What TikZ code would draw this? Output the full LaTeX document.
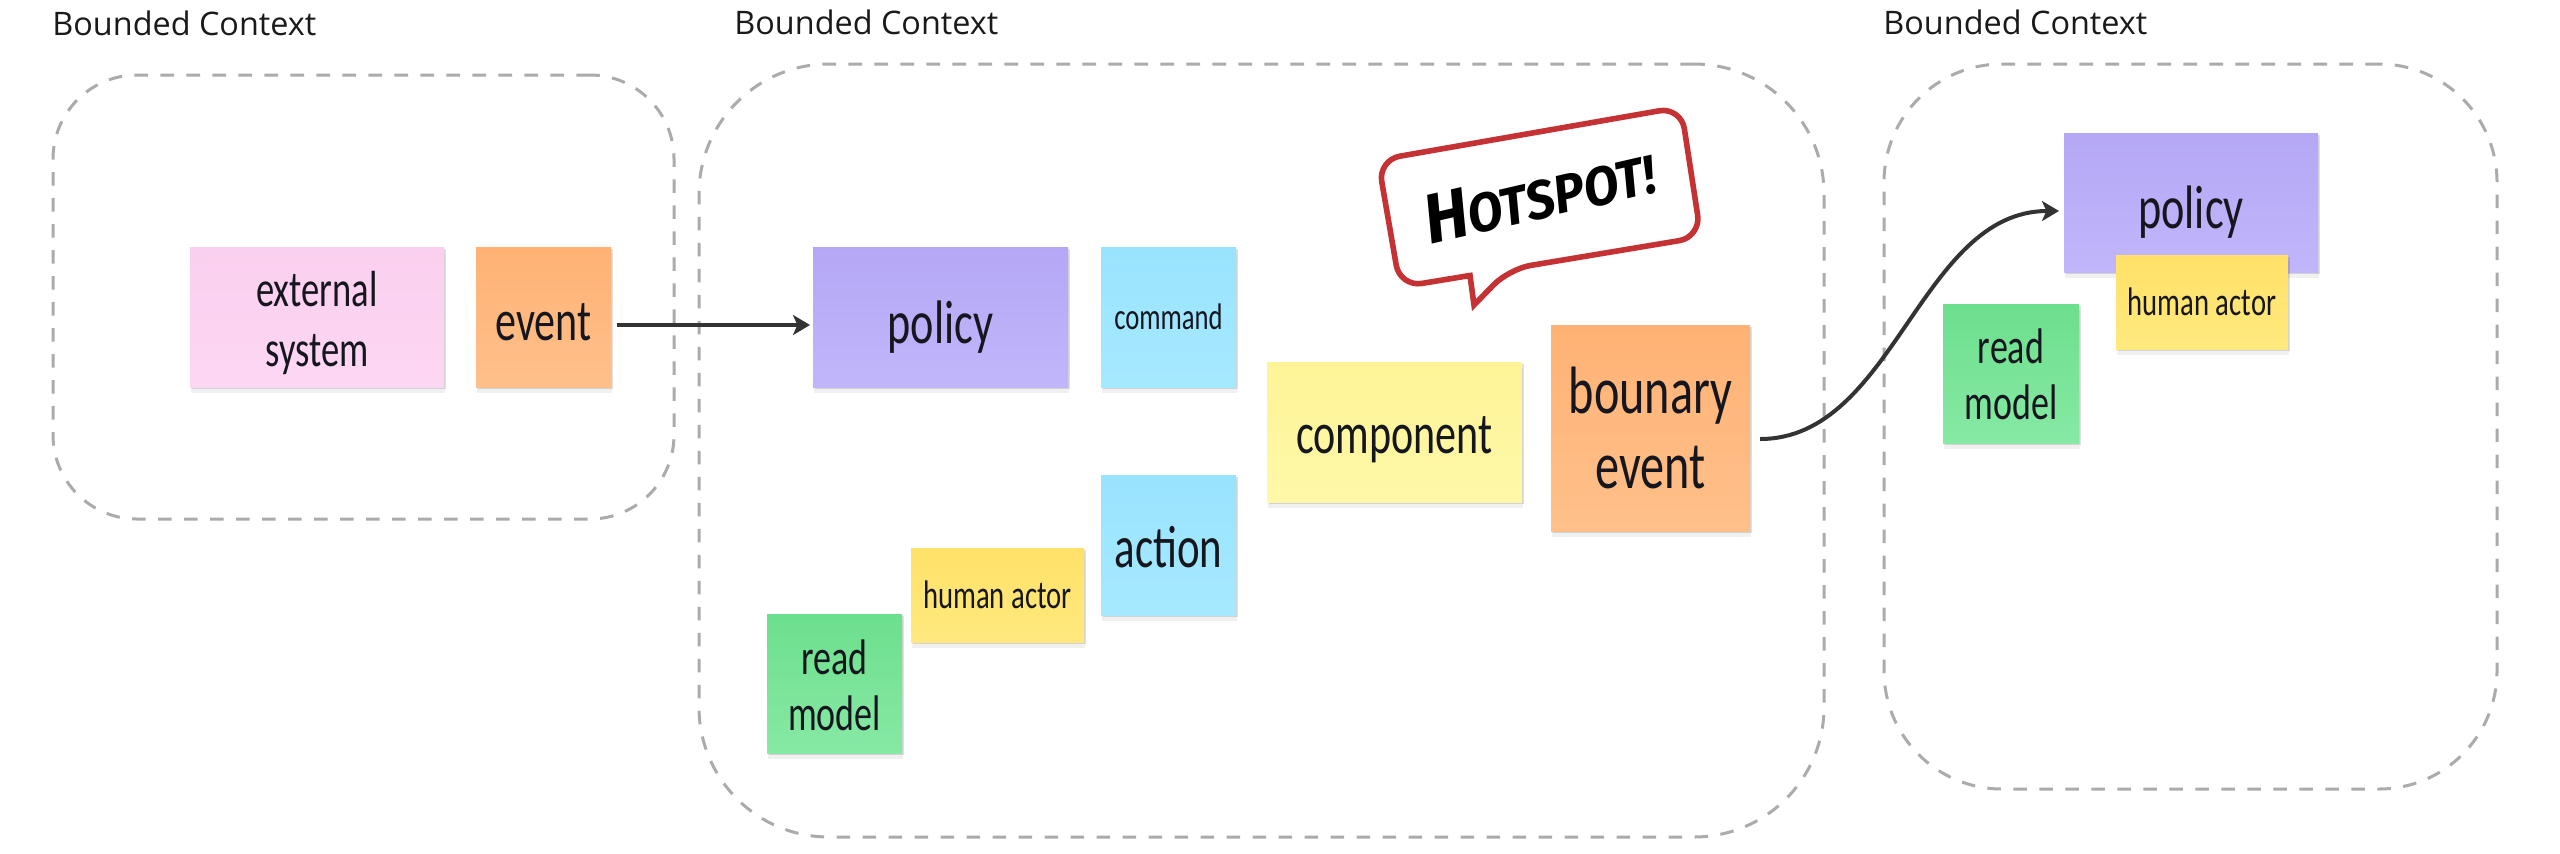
\documentclass[tikz,border=0pt]{standalone}
\usepackage{fontspec}
\usetikzlibrary{arrows.meta,shadows}
\setmainfont{Open Sans}
\newfontfamily\hand[FakeStretch=0.72]{Carlito}
\newfontfamily\marker[FakeStretch=0.95]{Fira Sans}
\newcommand{\dn}[2]{\raisebox{-#1pt}[\height][\depth]{#2}}
\definecolor{dashgray}{HTML}{ABABAB}
\definecolor{inkdark}{HTML}{333333}
\definecolor{labelink}{HTML}{1A1A1A}
\definecolor{textink}{HTML}{16161F}
\definecolor{calloutred}{HTML}{C53234}
\definecolor{pinkt}{HTML}{FBCFEF}\definecolor{pinkb}{HTML}{FCD7F3}
\definecolor{orangt}{HTML}{FFB274}\definecolor{orangb}{HTML}{FFC08A}
\definecolor{purpt}{HTML}{B5A7F5}\definecolor{purpb}{HTML}{C1B6FB}
\definecolor{bluet}{HTML}{99E3FF}\definecolor{blueb}{HTML}{A6E9FF}
\definecolor{yelt}{HTML}{FFE168}\definecolor{yelb}{HTML}{FFE97E}
\definecolor{palet}{HTML}{FEF497}\definecolor{paleb}{HTML}{FEF8A8}
\definecolor{grnt}{HTML}{6CDF8D}\definecolor{grnb}{HTML}{87E9A4}
\tikzset{
  x=0.5pt,y=-0.5pt,
  ctx/.style n args={2}{draw=dashgray,line width=1.5pt,dash pattern=on 6.8pt off 6.2pt,rectangle,minimum width=#1*0.5pt,minimum height=#2*0.5pt,inner sep=0pt,outer sep=0pt},
  ctxlabel/.style={anchor=west,inner sep=0pt,text=labelink,font=\fontsize{16.2}{20}\selectfont},
  sticky/.style n args={4}{rectangle,minimum width=#1*0.5pt,minimum height=#2*0.5pt,inner sep=0pt,outer sep=0pt,top color=#3,bottom color=#4,text=textink,align=center,
    drop shadow={shadow xshift=0.8pt,shadow yshift=-1.2pt,opacity=0.12,fill=black},
    drop shadow={shadow xshift=0.4pt,shadow yshift=-2.8pt,opacity=0.06,fill=black}},
  big/.style={font=\hand\fontsize{29.2}{30}\selectfont},
  poly/.style={font=\hand\fontsize{30.7}{30}\selectfont},
  mid/.style={font=\hand\fontsize{25.4}{30}\selectfont},
  readm/.style={font=\hand\fontsize{25}{28}\selectfont},
  small/.style={font=\hand\fontsize{19.9}{22}\selectfont},
  conn/.style={draw=inkdark,line width=2pt,-{Stealth[length=8.5pt,width=10pt,inset=2.2pt]}},
}
\begin{document}
\begin{tikzpicture}
\useasboundingbox[fill=white] (0,0) rectangle (2560,853);
% frames
\node[ctx={621}{444},rounded corners=42pt] (ctxa) at (363.5,297) {};
\node[ctx={1125}{773},rounded corners=65pt] (ctxb) at (1261.5,450.5) {};
\node[ctx={613}{725},rounded corners=59pt] (ctxc) at (2190.5,426.5) {};
\node[ctxlabel] (la) at (52,23) {Bounded Context};
\node[ctxlabel] (lb) at (734,22) {Bounded Context};
\node[ctxlabel] (lc) at (1883,22) {Bounded Context};
% stickies
\node[sticky={254}{140}{pinkt}{pinkb},mid] (ext) at (317,317) {\dn{2.9}{external}\\\dn{2.9}{system}};
\node[sticky={135}{140}{orangt}{orangb},big] (event) at (543.5,317) {\dn{2.5}{event}};
\node[sticky={255}{140}{purpt}{purpb},poly] (policya) at (940.5,317) {\dn{4.9}{policy}};
\node[sticky={135}{140}{bluet}{blueb},font=\hand\fontsize{18.5}{22}\selectfont] (command) at (1168.5,317) {command};
\node[sticky={135}{140}{bluet}{blueb},font=\hand\fontsize{29.8}{30}\selectfont] (action) at (1168.5,545) {\dn{1}{action}};
\node[sticky={173}{94}{yelt}{yelb},small] (humana) at (997.5,595) {human actor};
\node[sticky={135}{139}{grnt}{grnb},readm] (reada) at (834.5,683.5) {\dn{1}{read}\\\dn{1}{model}};
\node[sticky={255}{140}{palet}{paleb},big] (component) at (1394.5,432) {\dn{4}{component}};
\node[sticky={199}{206}{orangt}{orangb},font=\hand\fontsize{33.5}{37.5}\selectfont] (boundary) at (1650.5,428) {bounary\\event};
\node[sticky={254}{139}{purpt}{purpb},poly] (policyb) at (2191,202.5) {\dn{4.9}{policy}};
\node[sticky={172}{94}{yelt}{yelb},small] (humanb) at (2202,302) {human actor};
\node[sticky={136}{139}{grnt}{grnb},readm] (readb) at (2011,373.5) {\dn{0.5}{read}\\\dn{0.5}{model}};
% connectors
\draw[conn,shorten <=3pt,shorten >=1.5pt] ([yshift=-4pt]event.east) -- ([yshift=-4pt]policya.west);
\draw[conn,shorten <=5pt,shorten >=2.5pt] ([yshift=-5.5pt]boundary.east) .. controls +(72pt,0pt) and +(-72pt,0pt) .. ([yshift=-4.25pt]policyb.west);
% callout
\coordinate (tl) at (1378,160);
\coordinate (tr) at (1681,107);
\coordinate (br) at (1701,237);
\coordinate (bl) at (1400,287);
\coordinate (ta) at (1470,275.5);
\coordinate (tip) at (1474,305);
\coordinate (tb) at (1509,269);
\draw[draw=calloutred,fill=white,line width=2.8pt,miter limit=10,rounded corners=11pt]
  (ta) -- (bl) -- (tl) -- (tr) -- (br) -- (tb) [sharp corners] -- (tip) -- (ta) -- cycle;
\node[rotate=13,inner sep=0pt,text=black,font=\marker\bfseries\itshape\fontsize{27}{30}\selectfont] (hot) at (1539,195) {\fontsize{35}{30}\selectfont H\fontsize{27}{30}\selectfont OTSPOT!};
\end{tikzpicture}
\end{document}
